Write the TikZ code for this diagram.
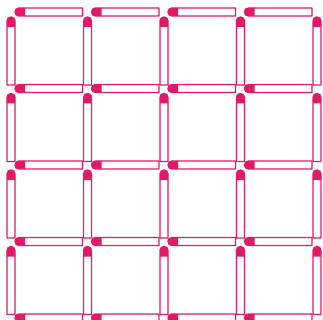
\documentclass[tikz,border=0pt]{standalone}
\definecolor{matchpink}{RGB}{225,25,105}
\tikzset{
  stickline/.style={draw=matchpink, line width=1.4pt, fill=white, line join=round},
  headfill/.style={fill=matchpink},
  pics/hmatch/.style={code={
    \draw[stickline] (4,-4) -- (67.5,-4) -- (67.5,4) -- (4,4) arc (90:270:4) -- cycle;
    \fill[headfill] (4,4) arc (90:270:4) -- (10,-4) -- (10,4) -- cycle;
  }},
  pics/vmatch/.style={code={
    \draw[stickline] (4,4) -- (4,68) -- (-4,68) -- (-4,4) arc (180:360:4) -- cycle;
    \fill[headfill] (4,4) arc (0:-180:4) -- (-4,10) -- (4,10) -- cycle;
  }}
}
\begin{document}
\begin{tikzpicture}[x=1pt,y=-1pt]
  \fill[white] (0,0) rectangle (323,320);
  \useasboundingbox (0,0) rectangle (323,320);
  \foreach \i in {0,...,3} {
    \foreach \j in {0,...,4} {
      \pic at ({11+76.5*\i+4},{12+76.5*\j}) {hmatch};
    }
  }
  \foreach \i in {0,...,4} {
    \foreach \j in {0,...,3} {
      \pic at ({11+76.5*\i},{12+76.5*\j+5}) {vmatch};
    }
  }
\end{tikzpicture}
\end{document}
